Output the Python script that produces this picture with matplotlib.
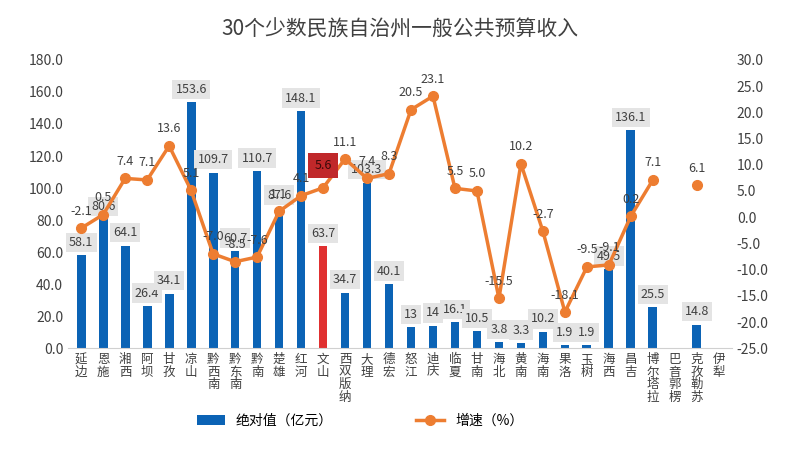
import numpy as np
import matplotlib.pyplot as plt

plt.rcParams['font.family'] = ['Noto Sans CJK SC', 'DejaVu Sans']

regions = ['延边', '恩施', '湘西', '阿坝', '甘孜', '凉山', '黔西南', '黔东南', '黔南', '楚雄',
           '红河', '文山', '西双版纳', '大理', '德宏', '怒江', '迪庆', '临夏', '甘南', '海北',
           '黄南', '海南', '果洛', '玉树', '海西', '昌吉', '博尔塔拉', '巴音郭楞', '克孜勒苏', '伊犁']
revenue = [58.1, 80.6, 64.1, 26.4, 34.1, 153.6, 109.7, 60.7, 110.7, 87.6,
           148.1, 63.7, 34.7, 103.3, 40.1, 13, 14, 16.1, 10.5, 3.8,
           3.3, 10.2, 1.9, 1.9, 49.5, 136.1, 25.5, np.nan, 14.8, np.nan]
growth = [-2.1, 0.5, 7.4, 7.1, 13.6, 5.1, -7.0, -8.5, -7.6, 1.1,
          4.1, 5.6, 11.1, 7.4, 8.3, 20.5, 23.1, 5.5, 5.0, -15.5,
          10.2, -2.7, -18.1, -9.5, -9.1, 0.2, 7.1, np.nan, 6.1, np.nan]
highlight = '文山'

fig = plt.figure(figsize=(8, 4.54), dpi=100)
ax = fig.add_axes([0.085, 0.233, 0.83, 0.635])
ax2 = ax.twinx()

x = np.arange(len(regions))
colors = ['#e03030' if r == highlight else '#0b63b5' for r in regions]
ax.bar(x, revenue, width=0.4, color=colors, label='绝对值（亿元）', zorder=2)
ax.set_ylim(0, 180)
ax.set_yticks(np.arange(0, 181, 20))
ax.set_yticklabels([f'{v:.1f}' for v in np.arange(0, 181, 20)], fontsize=10, color='#404040')
ax.set_xlim(-0.6, len(regions) - 0.4)
ax.set_xticks(x)
ax.set_xticklabels(['\n'.join(r) for r in regions], fontsize=9, color='#404040', linespacing=0.95)
ax.tick_params(length=0)
for s in ['top', 'left', 'right']:
    ax.spines[s].set_visible(False)
ax.spines['bottom'].set_color('#d0d0d0')

for xi, v in zip(x, revenue):
    if np.isnan(v):
        continue
    ax.text(xi, v + 4, f'{v:g}' if v in (13, 14) else f'{v:.1f}', ha='center', va='bottom', fontsize=9,
            color='#404040', bbox=dict(boxstyle='square,pad=0.25', fc='#e4e4e4', ec='none'), zorder=3)

ax2.plot(x, growth, color='#ed7d31', lw=2.5, marker='o', ms=7, label='增速（%）', zorder=4)
ax2.set_ylim(-25, 30)
ax2.set_yticks(np.arange(-25, 31, 5))
ax2.set_yticklabels([f'{v:.1f}' for v in np.arange(-25, 31, 5)], fontsize=10, color='#404040')
ax2.tick_params(length=0)
for s in ['top', 'left', 'right', 'bottom']:
    ax2.spines[s].set_visible(False)
for xi, g, r in zip(x, growth, regions):
    if np.isnan(g):
        continue
    if r == highlight:
        ax2.text(xi, g + 3, f'{g:.1f}', ha='center', va='bottom', fontsize=9, color='#3a0a0a', zorder=6,
                 bbox=dict(boxstyle='square,pad=0.5', fc='#c0282a', ec='none'))
    else:
        ax2.text(xi, g + 2, f'{g:.1f}', ha='center', va='bottom', fontsize=9, color='#404040', zorder=5)

fig.suptitle('30个少数民族自治州一般公共预算收入', fontsize=15, color='#404040', y=0.96)
h1, l1 = ax.get_legend_handles_labels()
h2, l2 = ax2.get_legend_handles_labels()
fig.legend(h1 + h2, l1 + l2, loc='lower center', ncol=2, frameon=False, fontsize=10,
           bbox_to_anchor=(0.45, 0.03), columnspacing=6)

fig.savefig('out.png', dpi=100)
